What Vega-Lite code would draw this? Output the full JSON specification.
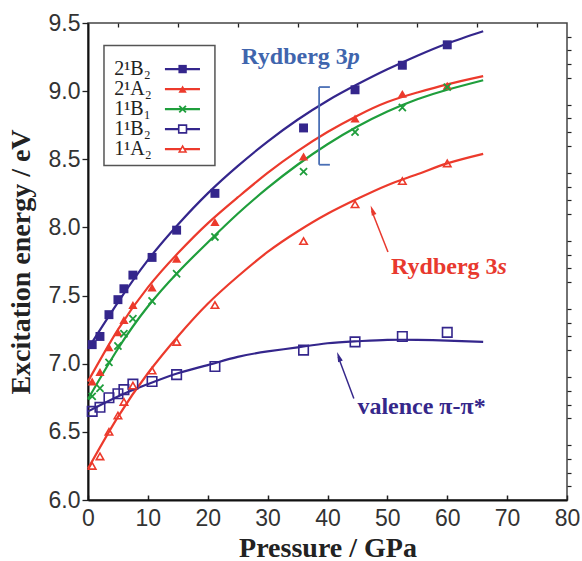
{
  "$schema": "https://vega.github.io/schema/vega-lite/v6.json",
  "width": 479,
  "height": 477,
  "autosize": {"type": "none"},
  "padding": {"left": 88, "top": 23, "right": 15, "bottom": 61},
  "background": "white",
  "config": {"view": {"stroke": "#444", "strokeWidth": 1.5}, "font": "Liberation Sans"},
  "datasets": {
    "fit": [
      {"series": "2¹B₂", "p": 0, "e": 7.11}, {"series": "2¹B₂", "p": 5, "e": 7.45}, {"series": "2¹B₂", "p": 10, "e": 7.76}, {"series": "2¹B₂", "p": 15, "e": 8.02}, {"series": "2¹B₂", "p": 20, "e": 8.25}, {"series": "2¹B₂", "p": 25, "e": 8.45}, {"series": "2¹B₂", "p": 30, "e": 8.63}, {"series": "2¹B₂", "p": 35, "e": 8.79}, {"series": "2¹B₂", "p": 40, "e": 8.93}, {"series": "2¹B₂", "p": 45, "e": 9.05}, {"series": "2¹B₂", "p": 50, "e": 9.16}, {"series": "2¹B₂", "p": 55, "e": 9.26}, {"series": "2¹B₂", "p": 60, "e": 9.35}, {"series": "2¹B₂", "p": 66, "e": 9.44},
      {"series": "2¹A₂", "p": 0, "e": 6.87}, {"series": "2¹A₂", "p": 5, "e": 7.25}, {"series": "2¹A₂", "p": 10, "e": 7.56}, {"series": "2¹A₂", "p": 15, "e": 7.81}, {"series": "2¹A₂", "p": 20, "e": 8.03}, {"series": "2¹A₂", "p": 25, "e": 8.22}, {"series": "2¹A₂", "p": 30, "e": 8.40}, {"series": "2¹A₂", "p": 35, "e": 8.56}, {"series": "2¹A₂", "p": 40, "e": 8.70}, {"series": "2¹A₂", "p": 45, "e": 8.82}, {"series": "2¹A₂", "p": 50, "e": 8.92}, {"series": "2¹A₂", "p": 55, "e": 8.99}, {"series": "2¹A₂", "p": 60, "e": 9.05}, {"series": "2¹A₂", "p": 66, "e": 9.11},
      {"series": "1¹B₁", "p": 0, "e": 6.74}, {"series": "1¹B₁", "p": 5, "e": 7.11}, {"series": "1¹B₁", "p": 10, "e": 7.42}, {"series": "1¹B₁", "p": 15, "e": 7.67}, {"series": "1¹B₁", "p": 20, "e": 7.89}, {"series": "1¹B₁", "p": 25, "e": 8.10}, {"series": "1¹B₁", "p": 30, "e": 8.29}, {"series": "1¹B₁", "p": 35, "e": 8.46}, {"series": "1¹B₁", "p": 40, "e": 8.61}, {"series": "1¹B₁", "p": 45, "e": 8.74}, {"series": "1¹B₁", "p": 50, "e": 8.85}, {"series": "1¹B₁", "p": 55, "e": 8.94}, {"series": "1¹B₁", "p": 60, "e": 9.01}, {"series": "1¹B₁", "p": 66, "e": 9.08},
      {"series": "1¹B₂", "p": 0, "e": 6.65}, {"series": "1¹B₂", "p": 5, "e": 6.76}, {"series": "1¹B₂", "p": 10, "e": 6.85}, {"series": "1¹B₂", "p": 15, "e": 6.93}, {"series": "1¹B₂", "p": 20, "e": 6.99}, {"series": "1¹B₂", "p": 25, "e": 7.05}, {"series": "1¹B₂", "p": 30, "e": 7.09}, {"series": "1¹B₂", "p": 35, "e": 7.12}, {"series": "1¹B₂", "p": 40, "e": 7.15}, {"series": "1¹B₂", "p": 45, "e": 7.165}, {"series": "1¹B₂", "p": 50, "e": 7.175}, {"series": "1¹B₂", "p": 55, "e": 7.175}, {"series": "1¹B₂", "p": 60, "e": 7.17}, {"series": "1¹B₂", "p": 66, "e": 7.16},
      {"series": "1¹A₂", "p": 0, "e": 6.23}, {"series": "1¹A₂", "p": 5, "e": 6.61}, {"series": "1¹A₂", "p": 10, "e": 6.93}, {"series": "1¹A₂", "p": 15, "e": 7.20}, {"series": "1¹A₂", "p": 20, "e": 7.44}, {"series": "1¹A₂", "p": 25, "e": 7.64}, {"series": "1¹A₂", "p": 30, "e": 7.82}, {"series": "1¹A₂", "p": 35, "e": 7.97}, {"series": "1¹A₂", "p": 40, "e": 8.10}, {"series": "1¹A₂", "p": 45, "e": 8.21}, {"series": "1¹A₂", "p": 50, "e": 8.31}, {"series": "1¹A₂", "p": 55, "e": 8.39}, {"series": "1¹A₂", "p": 60, "e": 8.47}, {"series": "1¹A₂", "p": 66, "e": 8.54}
    ],
    "pts": [
      {"series": "2¹B₂", "p": 0.7, "e": 7.14}, {"series": "2¹B₂", "p": 2, "e": 7.20}, {"series": "2¹B₂", "p": 3.5, "e": 7.36}, {"series": "2¹B₂", "p": 5, "e": 7.47}, {"series": "2¹B₂", "p": 6, "e": 7.55}, {"series": "2¹B₂", "p": 7.5, "e": 7.65}, {"series": "2¹B₂", "p": 10.7, "e": 7.78}, {"series": "2¹B₂", "p": 14.8, "e": 7.98}, {"series": "2¹B₂", "p": 21.2, "e": 8.25}, {"series": "2¹B₂", "p": 36, "e": 8.73}, {"series": "2¹B₂", "p": 44.6, "e": 9.01}, {"series": "2¹B₂", "p": 52.5, "e": 9.19}, {"series": "2¹B₂", "p": 60, "e": 9.34},
      {"series": "2¹A₂", "p": 0.7, "e": 6.87}, {"series": "2¹A₂", "p": 2, "e": 6.94}, {"series": "2¹A₂", "p": 3.5, "e": 7.12}, {"series": "2¹A₂", "p": 5, "e": 7.23}, {"series": "2¹A₂", "p": 6, "e": 7.32}, {"series": "2¹A₂", "p": 7.5, "e": 7.43}, {"series": "2¹A₂", "p": 10.7, "e": 7.56}, {"series": "2¹A₂", "p": 14.8, "e": 7.77}, {"series": "2¹A₂", "p": 21.2, "e": 8.04}, {"series": "2¹A₂", "p": 36, "e": 8.52}, {"series": "2¹A₂", "p": 44.6, "e": 8.80}, {"series": "2¹A₂", "p": 52.5, "e": 8.98}, {"series": "2¹A₂", "p": 60, "e": 9.04},
      {"series": "1¹B₁", "p": 0.7, "e": 6.76}, {"series": "1¹B₁", "p": 2, "e": 6.82}, {"series": "1¹B₁", "p": 3.5, "e": 7.01}, {"series": "1¹B₁", "p": 5, "e": 7.13}, {"series": "1¹B₁", "p": 6, "e": 7.22}, {"series": "1¹B₁", "p": 7.5, "e": 7.33}, {"series": "1¹B₁", "p": 10.7, "e": 7.46}, {"series": "1¹B₁", "p": 14.8, "e": 7.66}, {"series": "1¹B₁", "p": 21.2, "e": 7.93}, {"series": "1¹B₁", "p": 36, "e": 8.41}, {"series": "1¹B₁", "p": 44.6, "e": 8.70}, {"series": "1¹B₁", "p": 52.5, "e": 8.88}, {"series": "1¹B₁", "p": 60, "e": 9.03},
      {"series": "1¹B₂", "p": 0.7, "e": 6.65}, {"series": "1¹B₂", "p": 2, "e": 6.68}, {"series": "1¹B₂", "p": 3.5, "e": 6.75}, {"series": "1¹B₂", "p": 5, "e": 6.78}, {"series": "1¹B₂", "p": 6, "e": 6.81}, {"series": "1¹B₂", "p": 7.5, "e": 6.85}, {"series": "1¹B₂", "p": 10.7, "e": 6.87}, {"series": "1¹B₂", "p": 14.8, "e": 6.92}, {"series": "1¹B₂", "p": 21.2, "e": 6.98}, {"series": "1¹B₂", "p": 36, "e": 7.10}, {"series": "1¹B₂", "p": 44.6, "e": 7.16}, {"series": "1¹B₂", "p": 52.5, "e": 7.20}, {"series": "1¹B₂", "p": 60, "e": 7.23},
      {"series": "1¹A₂", "p": 0.7, "e": 6.25}, {"series": "1¹A₂", "p": 2, "e": 6.32}, {"series": "1¹A₂", "p": 3.5, "e": 6.50}, {"series": "1¹A₂", "p": 5, "e": 6.62}, {"series": "1¹A₂", "p": 6, "e": 6.72}, {"series": "1¹A₂", "p": 7.5, "e": 6.84}, {"series": "1¹A₂", "p": 10.7, "e": 6.95}, {"series": "1¹A₂", "p": 14.8, "e": 7.16}, {"series": "1¹A₂", "p": 21.2, "e": 7.43}, {"series": "1¹A₂", "p": 36, "e": 7.90}, {"series": "1¹A₂", "p": 44.6, "e": 8.17}, {"series": "1¹A₂", "p": 52.5, "e": 8.34}, {"series": "1¹A₂", "p": 60, "e": 8.47}
    ],
    "one": [{}]
  },
  "resolve": {"axis": {"x": "independent", "y": "independent"}},
  "layer": [
    {
      "layer": [
        {
          "data": {"name": "fit"},
          "mark": {"type": "line", "interpolate": "natural", "strokeWidth": 2.2},
          "encoding": {
            "x": {"field": "p", "type": "quantitative",
              "scale": {"domain": [0, 80], "nice": false, "zero": false},
              "axis": {
                "title": "Pressure / GPa",
                "values": [0, 10, 20, 30, 40, 50, 60, 70, 80],
                "grid": false,
                "tickSize": -5,
                "tickColor": "#222", "tickWidth": 1.5,
                "domainColor": "#111", "domainWidth": 2,
                "labelFont": "Liberation Sans", "labelFontSize": 23, "labelColor": "#333", "labelPadding": 12,
                "labelFlush": false, "labelOverlap": false,
                "titleFont": "Liberation Serif", "titleFontWeight": "bold", "titleFontSize": 28, "titleColor": "#222", "titlePadding": 4
              }
            },
            "y": {"field": "e", "type": "quantitative",
              "scale": {"domain": [6, 9.5], "nice": false, "zero": false},
              "axis": {
                "title": "Excitation energy / eV",
                "values": [6, 6.5, 7, 7.5, 8, 8.5, 9, 9.5],
                "format": ".1f",
                "grid": false,
                "tickSize": 6,
                "tickColor": "#222", "tickWidth": 1.3,
                "domainColor": "#111", "domainWidth": 2,
                "labelFont": "Liberation Sans", "labelFontSize": 23, "labelColor": "#333", "labelPadding": 2,
                "labelFlush": false, "labelOverlap": false,
                "titleFont": "Liberation Serif", "titleFontWeight": "bold", "titleFontSize": 28, "titleColor": "#222", "titlePadding": 13
              }
            },
            "color": {"field": "series", "type": "nominal", "legend": null,
              "scale": {"domain": ["2¹B₂", "2¹A₂", "1¹B₁", "1¹B₂", "1¹A₂"], "range": ["#34268c", "#ec3a2c", "#1f9e3c", "#34268c", "#ec3a2c"]}},
            "detail": {"field": "series"}
          }
        },
        {
          "data": {"name": "pts"},
          "transform": [{"filter": "datum.series === '2¹B₂'"}],
          "mark": {"type": "point", "shape": "square", "filled": true, "opacity": 1, "size": 80, "color": "#34268c"},
          "encoding": {"x": {"field": "p", "type": "quantitative"}, "y": {"field": "e", "type": "quantitative"}}
        },
        {
          "data": {"name": "pts"},
          "transform": [{"filter": "datum.series === '2¹A₂'"}],
          "mark": {"type": "point", "shape": "triangle-up", "filled": true, "opacity": 1, "size": 85, "color": "#ec3a2c"},
          "encoding": {"x": {"field": "p", "type": "quantitative"}, "y": {"field": "e", "type": "quantitative"}}
        },
        {
          "data": {"name": "pts"},
          "transform": [{"filter": "datum.series === '1¹B₁'"}],
          "mark": {"type": "point", "shape": "M-1,-1L1,1M-1,1L1,-1", "filled": false, "opacity": 1, "size": 50, "strokeWidth": 1.8, "color": "#1f9e3c"},
          "encoding": {"x": {"field": "p", "type": "quantitative"}, "y": {"field": "e", "type": "quantitative"}}
        },
        {
          "data": {"name": "pts"},
          "transform": [{"filter": "datum.series === '1¹B₂'"}],
          "mark": {"type": "point", "shape": "square", "filled": false, "opacity": 1, "size": 90, "strokeWidth": 1.6, "color": "#34268c"},
          "encoding": {"x": {"field": "p", "type": "quantitative"}, "y": {"field": "e", "type": "quantitative"}}
        },
        {
          "data": {"name": "pts"},
          "transform": [{"filter": "datum.series === '1¹A₂'"}],
          "mark": {"type": "point", "shape": "triangle-up", "filled": false, "opacity": 1, "size": 55, "strokeWidth": 1.6, "color": "#ec3a2c"},
          "encoding": {"x": {"field": "p", "type": "quantitative"}, "y": {"field": "e", "type": "quantitative"}}
        },
        {
          "data": {"name": "one"},
          "mark": {"type": "rect", "fill": "white", "stroke": "#555", "strokeWidth": 1.5},
          "encoding": {"x": {"datum": 2.67}, "x2": {"datum": 21.2}, "y": {"datum": 9.335}, "y2": {"datum": 8.455}}
        },
        {"data": {"name": "one"}, "mark": {"type": "text", "text": "2¹B₂", "align": "left", "baseline": "middle", "font": "Liberation Serif", "fontSize": 20, "color": "#222"}, "encoding": {"x": {"datum": 4.4}, "y": {"datum": 9.162}}},
        {"data": {"name": "one"}, "mark": {"type": "text", "text": "2¹A₂", "align": "left", "baseline": "middle", "font": "Liberation Serif", "fontSize": 20, "color": "#222"}, "encoding": {"x": {"datum": 4.4}, "y": {"datum": 9.015}}},
        {"data": {"name": "one"}, "mark": {"type": "text", "text": "1¹B₁", "align": "left", "baseline": "middle", "font": "Liberation Serif", "fontSize": 20, "color": "#222"}, "encoding": {"x": {"datum": 4.4}, "y": {"datum": 8.868}}},
        {"data": {"name": "one"}, "mark": {"type": "text", "text": "1¹B₂", "align": "left", "baseline": "middle", "font": "Liberation Serif", "fontSize": 20, "color": "#222"}, "encoding": {"x": {"datum": 4.4}, "y": {"datum": 8.722}}},
        {"data": {"name": "one"}, "mark": {"type": "text", "text": "1¹A₂", "align": "left", "baseline": "middle", "font": "Liberation Serif", "fontSize": 20, "color": "#222"}, "encoding": {"x": {"datum": 4.4}, "y": {"datum": 8.575}}},
        {"data": {"name": "one"}, "mark": {"type": "rule", "color": "#34268c", "strokeWidth": 2.2}, "encoding": {"x": {"datum": 12.85}, "x2": {"datum": 18.7}, "y": {"datum": 9.162}}},
        {"data": {"name": "one"}, "mark": {"type": "rule", "color": "#ec3a2c", "strokeWidth": 2.2}, "encoding": {"x": {"datum": 12.85}, "x2": {"datum": 18.7}, "y": {"datum": 9.015}}},
        {"data": {"name": "one"}, "mark": {"type": "rule", "color": "#1f9e3c", "strokeWidth": 2.2}, "encoding": {"x": {"datum": 12.85}, "x2": {"datum": 18.7}, "y": {"datum": 8.868}}},
        {"data": {"name": "one"}, "mark": {"type": "rule", "color": "#34268c", "strokeWidth": 2.2}, "encoding": {"x": {"datum": 12.85}, "x2": {"datum": 18.7}, "y": {"datum": 8.722}}},
        {"data": {"name": "one"}, "mark": {"type": "rule", "color": "#ec3a2c", "strokeWidth": 2.2}, "encoding": {"x": {"datum": 12.85}, "x2": {"datum": 18.7}, "y": {"datum": 8.575}}},
        {"data": {"name": "one"}, "mark": {"type": "point", "shape": "square", "filled": true, "opacity": 1, "size": 70, "color": "#34268c"}, "encoding": {"x": {"datum": 15.8}, "y": {"datum": 9.162}}},
        {"data": {"name": "one"}, "mark": {"type": "point", "shape": "triangle-up", "filled": true, "opacity": 1, "size": 70, "color": "#ec3a2c"}, "encoding": {"x": {"datum": 15.8}, "y": {"datum": 9.015}}},
        {"data": {"name": "one"}, "mark": {"type": "point", "shape": "M-1,-1L1,1M-1,1L1,-1", "filled": false, "opacity": 1, "size": 45, "strokeWidth": 1.8, "color": "#1f9e3c"}, "encoding": {"x": {"datum": 15.8}, "y": {"datum": 8.868}}},
        {"data": {"name": "one"}, "mark": {"type": "point", "shape": "square", "filled": true, "fill": "white", "stroke": "#34268c", "opacity": 1, "size": 60, "strokeWidth": 1.6}, "encoding": {"x": {"datum": 15.8}, "y": {"datum": 8.722}}},
        {"data": {"name": "one"}, "mark": {"type": "point", "shape": "triangle-up", "filled": true, "fill": "white", "stroke": "#ec3a2c", "opacity": 1, "size": 45, "strokeWidth": 1.6}, "encoding": {"x": {"datum": 15.8}, "y": {"datum": 8.575}}},
        {
          "data": {"name": "one"},
          "mark": {"type": "text", "text": "Rydberg 3", "align": "right", "baseline": "alphabetic", "font": "Liberation Serif", "fontWeight": "bold", "fontSize": 24, "color": "#3f65ad"},
          "encoding": {"x": {"datum": 43.4}, "y": {"datum": 9.2}}
        },
        {
          "data": {"name": "one"},
          "mark": {"type": "text", "text": "p", "align": "left", "baseline": "alphabetic", "font": "Liberation Serif", "fontWeight": "bold", "fontStyle": "italic", "fontSize": 24, "color": "#3f65ad"},
          "encoding": {"x": {"datum": 43.4}, "y": {"datum": 9.2}}
        },
        {
          "data": {"name": "one"},
          "mark": {"type": "rule", "color": "#4a6fb5", "strokeWidth": 1.8},
          "encoding": {"x": {"datum": 38.6}, "y": {"datum": 9.03}, "y2": {"datum": 8.46}}
        },
        {
          "data": {"name": "one"},
          "mark": {"type": "rule", "color": "#4a6fb5", "strokeWidth": 1.8},
          "encoding": {"x": {"datum": 38.6}, "x2": {"datum": 40.4}, "y": {"datum": 9.03}}
        },
        {
          "data": {"name": "one"},
          "mark": {"type": "rule", "color": "#4a6fb5", "strokeWidth": 1.8},
          "encoding": {"x": {"datum": 38.6}, "x2": {"datum": 40.4}, "y": {"datum": 8.46}}
        },
        {
          "data": {"name": "one"},
          "mark": {"type": "text", "text": "Rydberg 3", "align": "right", "baseline": "alphabetic", "font": "Liberation Serif", "fontWeight": "bold", "fontSize": 24, "color": "#e8392e"},
          "encoding": {"x": {"datum": 68.4}, "y": {"datum": 7.66}}
        },
        {
          "data": {"name": "one"},
          "mark": {"type": "text", "text": "s", "align": "left", "baseline": "alphabetic", "font": "Liberation Serif", "fontWeight": "bold", "fontStyle": "italic", "fontSize": 24, "color": "#e8392e"},
          "encoding": {"x": {"datum": 68.4}, "y": {"datum": 7.66}}
        },
        {
          "data": {"name": "one"},
          "mark": {"type": "rule", "color": "#e8392e", "strokeWidth": 1.5},
          "encoding": {"x": {"datum": 50.1}, "y": {"datum": 7.82}, "x2": {"datum": 47.4}, "y2": {"datum": 8.12}}
        },
        {
          "data": {"name": "one"},
          "mark": {"type": "point", "shape": "M0,0L0.5,2L-0.5,2Z", "filled": true, "size": 100, "angle": -20.7, "color": "#e8392e", "opacity": 1},
          "encoding": {"x": {"datum": 47.2}, "y": {"datum": 8.16}}
        },
        {
          "data": {"name": "one"},
          "mark": {"type": "text", "text": "valence π-π*", "align": "center", "baseline": "alphabetic", "font": "Liberation Serif", "fontWeight": "bold", "fontSize": 24, "color": "#35278a"},
          "encoding": {"x": {"datum": 55.7}, "y": {"datum": 6.63}}
        },
        {
          "data": {"name": "one"},
          "mark": {"type": "rule", "color": "#35278a", "strokeWidth": 1.5},
          "encoding": {"x": {"datum": 44.4}, "y": {"datum": 6.745}, "x2": {"datum": 41.8}, "y2": {"datum": 7.05}}
        },
        {
          "data": {"name": "one"},
          "mark": {"type": "point", "shape": "M0,0L0.5,2L-0.5,2Z", "filled": true, "size": 100, "angle": -19.7, "color": "#35278a", "opacity": 1},
          "encoding": {"x": {"datum": 41.6}, "y": {"datum": 7.086}}
        }
      ]
    },
    {
      "data": {"name": "pts"},
      "mark": {"type": "point", "opacity": 0},
      "encoding": {
        "x": {"field": "p", "type": "quantitative",
          "axis": {"title": null, "labels": false, "domain": false, "grid": false,
            "values": [5, 15, 25, 35, 45, 55, 65, 75],
            "tickSize": -4, "tickColor": "#222", "tickWidth": 1.3}},
        "y": {"field": "e", "type": "quantitative",
          "axis": {"title": null, "labels": false, "domain": false, "grid": false,
            "values": [6.1, 6.2, 6.3, 6.4, 6.6, 6.7, 6.8, 6.9, 7.1, 7.2, 7.3, 7.4, 7.6, 7.7, 7.8, 7.9, 8.1, 8.2, 8.3, 8.4, 8.6, 8.7, 8.8, 8.9, 9.1, 9.2, 9.3, 9.4],
            "tickSize": 4, "tickColor": "#222", "tickWidth": 1.2}}
      }
    }
  ]
}
